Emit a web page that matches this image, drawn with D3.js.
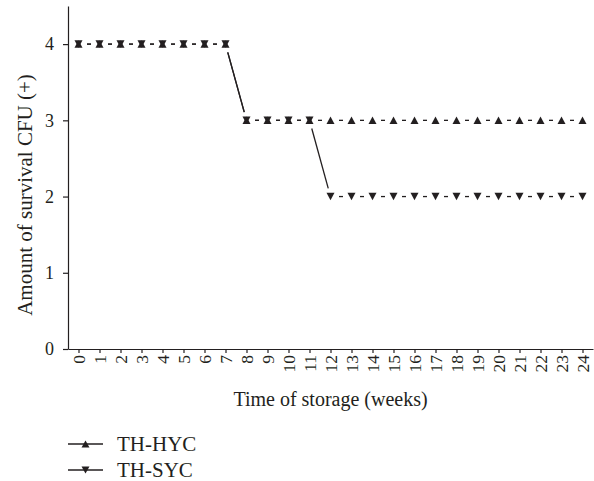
<!DOCTYPE html>
<html>
<head>
<meta charset="utf-8">
<script src="https://cdn.jsdelivr.net/npm/d3@7"></script>
<style>
  body { margin: 0; background: #fff; }
  text { font-family: "Liberation Serif", "DejaVu Serif", serif; fill: #231f20; }
  .axis path, .axis line { stroke: #231f20; stroke-width: 1.2; }
</style>
</head>
<body>
<div class="canva"></div>
<script>
const weeks = [0,1,2,3,4,5,6,7,8,9,10,11,12,13,14,15,16,17,18,19,20,21,22,23,24];
const hycValues = [4,4,4,4,4,4,4,4,3,3,3,3,3,3,3,3,3,3,3,3,3,3,3,3,3];
const sycValues = [4,4,4,4,4,4,4,4,3,3,3,3,2,2,2,2,2,2,2,2,2,2,2,2,2];
const yTicks = [0,1,2,3,4];
const seriesNames = ["TH-HYC", "TH-SYC"];

const ink = "#231f20";

const svg = d3.select(".canva").append("svg")
              .attr("width", 594)
              .attr("height", 481);

var x = d3.scaleLinear()
          .domain([-0.5, 24.5])
          .range([68, 593]);

var y = d3.scaleLinear()
          .domain([0, 4.5])
          .range([349, 6]);

// axes
var xAxis = d3.axisBottom(x)
              .tickValues(weeks)
              .tickFormat(d3.format("d"))
              .tickSizeInner(4)
              .tickSizeOuter(0);
const gx = svg.append("g")
   .attr("class", "axis")
   .attr("transform", "translate(0," + y(0) + ")")
   .call(xAxis);
gx.selectAll("text")
  .attr("font-size", 17.5)
  .attr("transform", "rotate(-90)")
  .attr("text-anchor", "end")
  .attr("x", -6)
  .attr("y", 0)
  .attr("dy", "0.35em");

var yAxis = d3.axisLeft(y)
              .tickValues(yTicks)
              .tickFormat(d3.format("d"))
              .tickSizeInner(5)
              .tickSizeOuter(0)
              .tickPadding(9);
const gy = svg.append("g")
   .attr("class", "axis")
   .attr("transform", "translate(" + x(-0.5) + ",0)")
   .call(yAxis);
gy.selectAll("text").attr("font-size", 18);

svg.selectAll(".axis .domain").attr("stroke", ink);
svg.selectAll(".axis text").attr("fill", ink);

// titles
svg.append("text")
   .attr("x", (x(-0.5) + x(24.5)) / 2)
   .attr("y", 406)
   .attr("text-anchor", "middle")
   .attr("font-size", 20)
   .text("Time of storage (weeks)");

svg.append("text")
   .attr("transform", "translate(32,195) rotate(-90)")
   .attr("text-anchor", "middle")
   .attr("font-size", 21)
   .text("Amount of survival CFU (+)");

// markers
function triangle(up, w, h) {
  return up
    ? "M0," + (-h/2) + "L" + (w/2) + "," + (h/2) + "L" + (-w/2) + "," + (h/2) + "Z"
    : "M0," + (h/2) + "L" + (w/2) + "," + (-h/2) + "L" + (-w/2) + "," + (-h/2) + "Z";
}

// connecting segments, trimmed away from the markers
const gap = 8.5;
function drawSegments(values) {
  var segs = [];
  for (var i = 0; i < values.length - 1; i++) {
    segs.push([weeks[i], values[i], weeks[i+1], values[i+1]]);
  }
  svg.append("g").selectAll("line")
     .data(segs)
     .enter()
     .append("line")
     .each(function(d) {
       var x1 = x(d[0]), y1 = y(d[1]), x2 = x(d[2]), y2 = y(d[3]);
       var len = Math.hypot(x2 - x1, y2 - y1);
       var ux = (x2 - x1) / len, uy = (y2 - y1) / len;
       d3.select(this)
         .attr("x1", x1 + ux * gap).attr("y1", y1 + uy * gap)
         .attr("x2", x2 - ux * gap).attr("y2", y2 - uy * gap);
     })
     .attr("stroke", ink)
     .attr("stroke-width", 1.3);
}
drawSegments(hycValues);
drawSegments(sycValues);

svg.append("g").selectAll("path")
   .data(hycValues)
   .enter()
   .append("path")
   .attr("d", triangle(true, 8, 7.5))
   .attr("transform", (d, i) => "translate(" + x(weeks[i]) + "," + y(d) + ")")
   .attr("fill", ink);

svg.append("g").selectAll("path")
   .data(sycValues)
   .enter()
   .append("path")
   .attr("d", triangle(false, 8, 7.5))
   .attr("transform", (d, i) => "translate(" + x(weeks[i]) + "," + y(d) + ")")
   .attr("fill", ink);

// legend
const legend = svg.append("g").selectAll("g")
   .data(seriesNames)
   .enter()
   .append("g")
   .attr("transform", (d, i) => "translate(68," + (444 + i * 26) + ")");

legend.append("line")
   .attr("x1", 0).attr("x2", 35)
   .attr("stroke", ink)
   .attr("stroke-width", 1.3);
legend.append("path")
   .attr("d", (d, i) => triangle(i === 0, 8, 7))
   .attr("transform", "translate(17.5,0)")
   .attr("fill", ink);
legend.append("text")
   .attr("x", 49)
   .attr("y", 7)
   .attr("font-size", 21)
   .text(d => d);
</script>
</body>
</html>
